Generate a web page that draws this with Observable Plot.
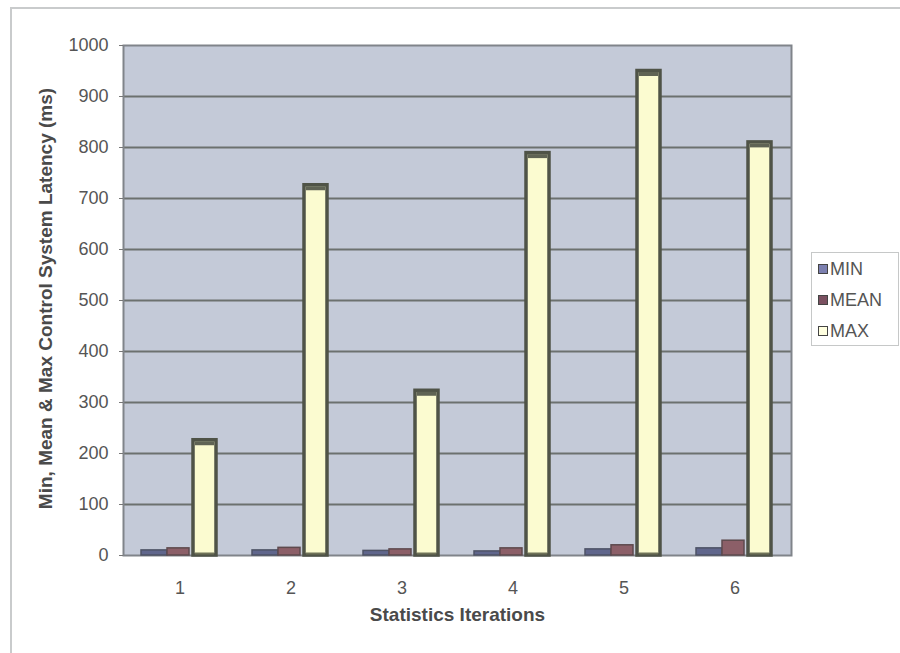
<!DOCTYPE html>
<html>
<head>
<meta charset="utf-8">
<script src="https://cdn.jsdelivr.net/npm/d3@7"></script>
<script src="https://cdn.jsdelivr.net/npm/@observablehq/plot@0.6"></script>
<style>
  html, body { margin: 0; padding: 0; background: #fff; }
  #chart { position: relative; width: 900px; height: 653px; overflow: hidden; font-family: "Liberation Sans", Arial, sans-serif; }
  #chart .edge-top { position: absolute; left: 10px; top: 7px; width: 890px; height: 2px; background: #c9cbcc; }
  #chart .edge-left { position: absolute; left: 10px; top: 7px; width: 2px; height: 646px; background: #c9cbcc; }
  #legend { position: absolute; left: 811px; top: 252px; width: 88px; height: 94px; border: 1px solid #c6c8c8; box-sizing: border-box; background: #fff; }
  #legend .item { position: absolute; left: 6px; display: flex; align-items: center; font-size: 18px; color: #555; line-height: 20px; }
  #legend .sw { width: 8px; height: 8px; border: 1.5px solid #444; margin-right: 2px; }
</style>
</head>
<body>
<div id="chart">
  <div class="edge-top"></div>
  <div class="edge-left"></div>
</div>
<script>
// Min / mean / max control-system latency per statistics iteration (ms)
const iterations = [1, 2, 3, 4, 5, 6];
const minLatency = [10, 10, 9, 8, 12, 14];
const meanLatency = [14, 15, 12, 14, 20, 29];
const maxLatency = [226, 726, 323, 789, 950, 810];
const seriesNames = ["MIN", "MEAN", "MAX"];
const seriesColors = ["#60668c", "#8c5f68", "#fbfbd0"];
const legendColors = ["#7c80b0", "#7a5060", "#ffffe0"];
const yTicks = [0, 100, 200, 300, 400, 500, 600, 700, 800, 900, 1000];

const rows = (values) => iterations.map((it, i) => ({iteration: it, value: values[i]}));
const minRows = rows(minLatency);
const meanRows = rows(meanLatency);
const maxRows = rows(maxLatency);

const font = "Liberation Sans, Arial, sans-serif";

const chart = Plot.plot({
  width: 900,
  height: 653,
  marginLeft: 123,
  marginRight: 109,
  marginTop: 45,
  marginBottom: 98,
  style: {fontFamily: font, fontSize: "18px", color: "#505050", background: "transparent"},
  x: {type: "band", domain: iterations, padding: 0},
  y: {domain: [0, 1000]},
  marks: [
    Plot.frame({fill: "#c4cad8"}),
    Plot.ruleY(yTicks.slice(1, -1), {stroke: "#6c716f", strokeWidth: 2}),
    Plot.frame({stroke: "#80848a", strokeWidth: 2}),
    // back series (small bars)
    Plot.barY(minRows, {x: "iteration", y: "value", fill: seriesColors[0], stroke: "#4e5366", strokeWidth: 1.5, insetLeft: 17, insetRight: 68}),
    Plot.barY(meanRows, {x: "iteration", y: "value", fill: seriesColors[1], stroke: "#5e4a4e", strokeWidth: 1.5, insetLeft: 43, insetRight: 46}),
    // front series (tall bars) with darker top cap and base edge
    Plot.barY(maxRows, {x: "iteration", y: "value", fill: seriesColors[2], stroke: "#4f5347", strokeWidth: 3.5, insetLeft: 69, insetRight: 19}),
    Plot.tickY(maxRows, {x: "iteration", y: "value", stroke: "#5f6354", strokeWidth: 4, dy: 3, insetLeft: 71, insetRight: 21}),
    Plot.tickY(maxRows, {x: "iteration", y: 0, stroke: "#6f7258", strokeWidth: 2, dy: -2, insetLeft: 71, insetRight: 21}),
    Plot.axisY({ticks: yTicks, tickFormat: (d) => String(d), tickSize: 4, tickPadding: 11, stroke: "#777", fill: "#555", label: null, fontSize: 18}),
    Plot.axisX({tickSize: 0, tickPadding: 26, fill: "#555", label: null, fontSize: 18}),
    Plot.text(["Statistics Iterations"], {frameAnchor: "bottom", dy: 65, textAnchor: "middle", fontWeight: "bold", fontSize: 19, fill: "#4a4a4a"}),
    Plot.text(["Min, Mean & Max Control System Latency (ms)"], {frameAnchor: "left", dx: -78, dy: -2, textAnchor: "middle", rotate: -90, fontWeight: "bold", fontSize: 19, fill: "#4a4a4a"})
  ]
});
chart.style.position = "absolute";
chart.style.left = "0px";
chart.style.top = "0px";
document.getElementById("chart").appendChild(chart);

// legend box to the right of the plot
const legend = document.createElement("div");
legend.id = "legend";
seriesNames.forEach((name, i) => {
  const item = document.createElement("div");
  item.className = "item";
  item.style.top = (6 + i * 31) + "px";
  const sw = document.createElement("span");
  sw.className = "sw";
  sw.style.background = legendColors[i];
  const label = document.createElement("span");
  label.textContent = name;
  item.appendChild(sw);
  item.appendChild(label);
  legend.appendChild(item);
});
document.getElementById("chart").appendChild(legend);
</script>
</body>
</html>
